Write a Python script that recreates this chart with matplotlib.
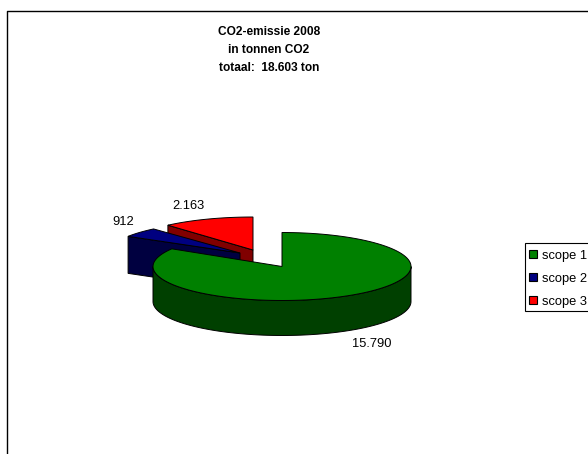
import numpy as np
import matplotlib
matplotlib.use('Agg')
from matplotlib import pyplot as plt
from matplotlib.patches import Polygon, Patch, Rectangle

plt.rcParams['font.family'] = ['Liberation Sans', 'DejaVu Sans']

# chart values
scopes = ['scope 1', 'scope 2', 'scope 3']
tons = [15790, 912, 2163]
value_labels = ['15.790', '912', '2.163']
title_lines = ['CO2-emissie 2008', 'in tonnen CO2', 'totaal:  18.603 ton']

top_colors = ['#008000', '#000080', '#ff0000']
side_colors = ['#004000', '#000040', '#800000']

# apex of each slice in pixels (slices 2 and 3 are pulled out), and ellipse radii
apex = [(282, 266.5), (240, 253), (253, 250)]
radius_x = [129, 131, 129]
radius_y = [34, 32, 33]
depth = [35, 37, 35]


def arc(center, rx, ry, a0, a1, n=120):
    t = np.radians(np.linspace(a0, a1, n))
    return np.column_stack([center[0] + rx * np.cos(t), center[1] - ry * np.sin(t)])


fig = plt.figure(figsize=(5.88, 4.54), dpi=100)
ax = fig.add_axes([0, 0, 1, 1])
ax.set_xlim(0, 588)
ax.set_ylim(454, 0)
ax.axis('off')

# outer chart frame, runs off the right and bottom of the picture
ax.plot([7, 7, 600], [470, 10.5, 10.5], color='black', lw=1, clip_on=False)

# slices go clockwise from 12 o'clock
sweep = np.array(tons) / sum(tons) * 360
starts = 90 - np.concatenate([[0], np.cumsum(sweep)[:-1]])
ends = starts - sweep

# painter order: red, blue, green
for i in [2, 1, 0]:
    c = apex[i]
    d = depth[i]
    rim = arc(c, radius_x[i], radius_y[i], starts[i], ends[i])
    if i == 0:
        # front wall of the big slice
        wall_top = arc(c, radius_x[i], radius_y[i], 180, 360)
        wall = np.vstack([wall_top, wall_top[::-1] + [0, d]])
    else:
        # cut face on the left of the pulled out slices
        left_pt = rim[0]
        wall = np.array([left_pt, c, (c[0], c[1] + d), left_pt + [0, d]])
    ax.add_patch(Polygon(wall, closed=True, fc=side_colors[i], ec='black', lw=0.7))
    ax.add_patch(Polygon(np.vstack([[c], rim]), closed=True, fc=top_colors[i], ec='black', lw=0.7))

for k, line in enumerate(title_lines):
    ax.text(269, 32 + k * 18, line, ha='center', va='center', fontsize=8.6, fontweight='bold')

label_pos = [(372, 344), (123, 222), (188, 206)]
for txt, (x, y) in zip(value_labels, label_pos):
    ax.text(x, y, txt, ha='center', va='center', fontsize=9.3)

# legend box is drawn apart so the rows can sit lower in it
ax.add_patch(Rectangle((525, 243), 80, 68, fc='white', ec='black', lw=0.8, zorder=4))
handles = [Patch(fc=col, ec='black', lw=0.8) for col in top_colors]
leg = ax.legend(handles, scopes, loc='upper left', bbox_to_anchor=(525, 245.5),
                bbox_transform=ax.transData, borderaxespad=0, frameon=False,
                fontsize=9.3, handlelength=0.62, handleheight=0.62,
                handletextpad=0.39, labelspacing=0.86, borderpad=0.31)
leg.set_zorder(5)

fig.savefig('out.png', dpi=100)
